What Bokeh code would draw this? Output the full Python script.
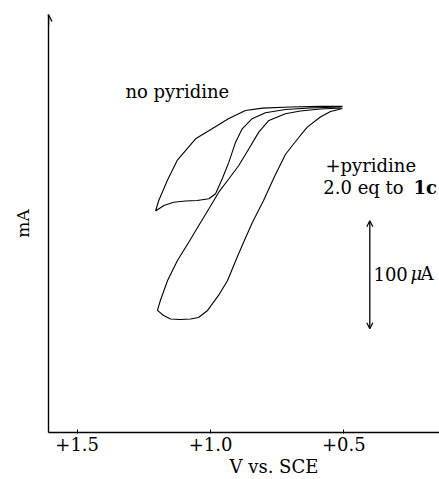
from bokeh.plotting import figure
from bokeh.models import Range1d, FixedTicker, Label, Arrow, OpenHead, Title
from bokeh.embed import file_html
from bokeh.resources import INLINE

# ---- data (V vs. SCE, current in uA) ----
nopyr_V = [0.505, 0.588, 0.700, 0.805, 0.869, 0.933, 0.994, 1.056, 1.125, 1.162, 1.194, 1.206,
           1.175, 1.138, 1.094, 1.050, 1.006, 0.981, 0.956, 0.931, 0.906, 0.881, 0.844, 0.794,
           0.719, 0.625, 0.513]
nopyr_I = [301.9, 301.9, 301.4, 300.3, 298.1, 290.5, 281.2, 271.9, 251.9, 233.3, 214.8, 205.1,
           210.2, 213.2, 214.4, 214.8, 216.4, 221.0, 234.9, 250.3, 268.8, 281.2, 290.5, 296.0,
           299.1, 300.5, 301.4]

pyr_V = [0.505, 0.588, 0.663, 0.719, 0.781, 0.819, 0.856, 0.894, 0.931, 0.969, 1.006, 1.044,
         1.081, 1.124, 1.161, 1.188, 1.199, 1.176, 1.150, 1.113, 1.075, 1.045, 1.011, 0.970,
         0.936, 0.899, 0.873, 0.843, 0.801, 0.760, 0.719, 0.693, 0.663, 0.636, 0.588, 0.550, 0.505]
pyr_I = [300.5, 299.5, 297.7, 295.1, 288.9, 278.1, 262.7, 247.2, 234.9, 222.5, 207.1, 191.7,
         176.4, 159.3, 140.7, 122.2, 113.0, 108.3, 105.1, 104.6, 105.1, 106.5, 113.0, 126.9,
         140.7, 163.0, 177.8, 194.4, 214.8, 237.0, 257.4, 265.7, 275.0, 282.9, 292.1, 297.2, 300.0]

tick_values = [1.5, 1.0, 0.5]
tick_labels = ["+1.5", "+1.0", "+0.5"]
scale_bar_uA = 100

FONT = "DejaVu Serif"

x_left, x_right = 1.6075, 0.14125
y_bottom, y_top = 0.0, 387.0

p = figure(width=439, height=479, output_backend="svg", toolbar_location=None,
           x_range=Range1d(x_left, x_right), y_range=Range1d(y_bottom, y_top),
           min_border_left=48, min_border_right=0, min_border_top=14, min_border_bottom=47)
p.outline_line_color = None
p.grid.visible = False
p.background_fill_color = "white"
p.border_fill_color = "white"

# x axis
xa = p.xaxis[0]
xa.ticker = FixedTicker(ticks=tick_values)
xa.major_label_overrides = {v: t for v, t in zip(tick_values, tick_labels)}
xa.minor_tick_line_color = None
xa.major_tick_in = 3
xa.major_tick_out = 1
xa.major_tick_line_color = "black"
xa.axis_line_color = "black"
xa.axis_line_width = 1.4
xa.major_label_text_font = FONT
xa.major_label_text_font_size = "18px"
xa.major_label_text_color = "black"
xa.major_label_standoff = 3

# x axis title as a positioned title below the axis
p.add_layout(Title(text="V vs. SCE", align="left", offset=181, standoff=0,
                   text_font=FONT, text_font_size="18px", text_font_style="normal",
                   text_color="black"), "below")

# y axis
ya = p.yaxis[0]
ya.ticker = FixedTicker(ticks=[])
ya.minor_tick_line_color = None
ya.major_tick_line_color = None
ya.axis_line_color = "black"
ya.axis_line_width = 1.4
ya.axis_label = "mA"
ya.axis_label_text_font = FONT
ya.axis_label_text_font_size = "17px"
ya.axis_label_text_font_style = "normal"
ya.axis_label_text_color = "black"
ya.axis_label_standoff = 16

# arrow on y axis
p.add_layout(Arrow(end=OpenHead(size=7, line_width=1.3, line_color="black"),
                   x_start=x_left, y_start=y_top - 10, x_end=x_left, y_end=y_top,
                   line_width=1.4, line_color="black"))

# curves
p.line(nopyr_V, nopyr_I, line_color="black", line_width=1.1)
p.line(pyr_V, pyr_I, line_color="black", line_width=1.1)

def lab(x, y, text, style="normal", size="18px"):
    p.add_layout(Label(x=x, y=y, text=text, text_font=FONT, text_font_size=size,
                       text_font_style=style, text_color="black",
                       text_align="left", text_baseline="middle"))

lab(1.319, 315.7, "no pyridine")
lab(0.569, 247.2, "+pyridine")
lab(0.577, 227.1, "2.0 eq to")
lab(0.239, 227.1, "1c", style="bold")
lab(0.389, 147.2, "100")
lab(0.250, 147.2, "\u03bc", style="italic")
lab(0.2125, 147.2, "A")

# scale bar
bar_x = 0.4026
bar_lo = 96.0
p.add_layout(Arrow(start=OpenHead(size=6, line_width=1.2, line_color="black"),
                   end=OpenHead(size=6, line_width=1.2, line_color="black"),
                   x_start=bar_x, y_start=bar_lo, x_end=bar_x, y_end=bar_lo + scale_bar_uA,
                   line_width=1.3, line_color="black"))

open("out.html", "w").write(file_html(p, INLINE))
